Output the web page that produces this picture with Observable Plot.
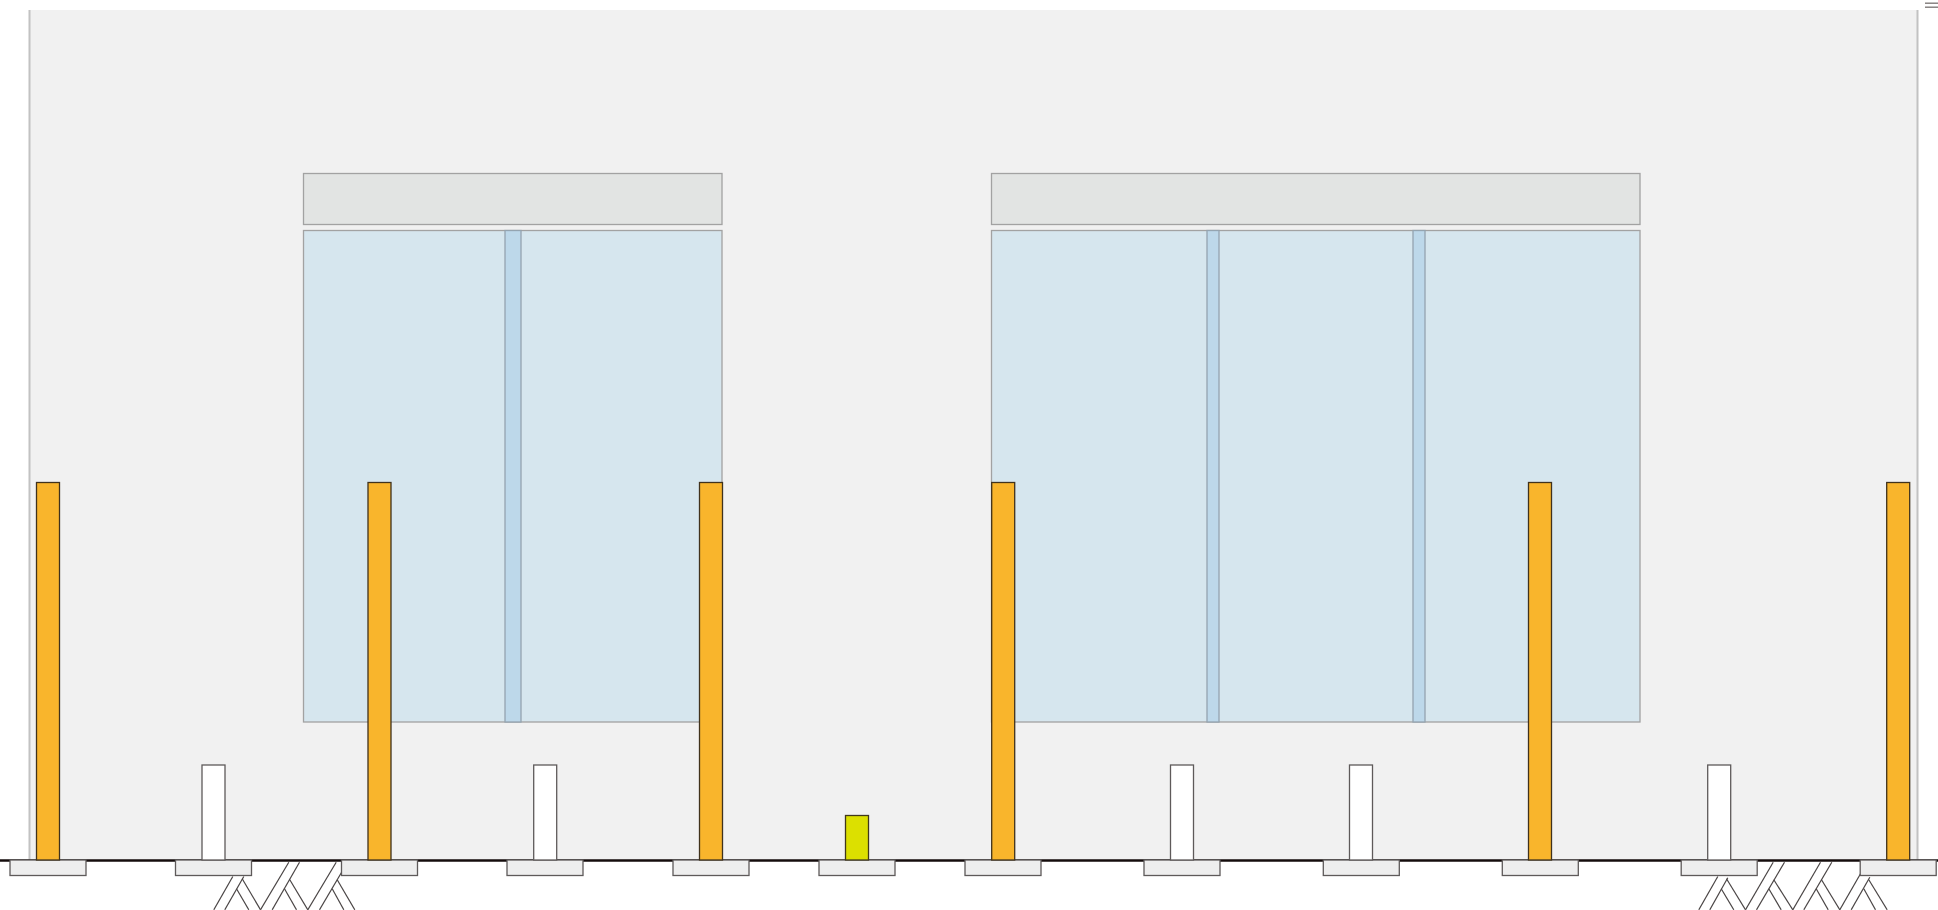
<!DOCTYPE html>
<html>
<head>
<meta charset="utf-8">
<script src="https://cdn.jsdelivr.net/npm/d3@7"></script>
<script src="https://cdn.jsdelivr.net/npm/@observablehq/plot@0.6"></script>
<style>html,body{margin:0;padding:0;background:#fff;overflow:hidden}svg{display:block}</style>
</head>
<body>
<div id="chart"></div>
<script>
// Horizontal position along the elevation, and height above the floor line
const wallSpan = [29, 1917];
const wallTop = 850;
const panelSpans = [[303.5, 722], [991.5, 1640]];
const panelBottom = 138;
const panelTop = 629.5;
const headerBottom = 635.5;
const headerTop = 686.5;
const mullionSpans = [[505, 521], [1207, 1219], [1413, 1425]];
const orangeCentres = [48, 379.5, 711, 1003.2, 1540, 1898.2];
const whiteCentres = [213.5, 545.2, 1182, 1361, 1719.2];
const yellowCentres = [857];
const postWidth = 23;
const orangeHeight = 377.5;
const whiteHeight = 95;
const yellowHeight = 44.5;
const footingCentres = [48, 213.5, 379.5, 545, 711, 857, 1003, 1182, 1361.3, 1540.3, 1719.2, 1898.2];
const footingWidth = 76;
const footingDepth = -15.5;
// x1, height1, x2, height2
const pileLines = [
  [213.3,-49.3,232.3,-16],[224.3,-49.3,243.3,-16],[241.7,-18.3,260,-49.3],[236,-28.3,248.3,-49.3],
  [260,-49.3,288.3,-1.7],[271.7,-49.3,299,-1.7],[289.3,-19.3,307.3,-49.3],[284,-28.3,296,-49.3],
  [307.3,-49.3,335.7,-1.7],[319,-49.3,341.7,-10.7],[336.7,-19.3,354.3,-49.3],[331.7,-28.3,343.3,-49.3],
  [1698.3,-49.3,1717.3,-16],[1709.3,-49.3,1727.3,-17.3],[1726,-18.3,1745,-49.3],[1720.7,-28.3,1733.3,-49.3],
  [1745,-49.3,1772.7,-1.7],[1756,-49.3,1784,-1.7],[1773.3,-19.3,1792.3,-49.3],[1768.3,-28.3,1780.7,-49.3],
  [1792.3,-49.3,1820,-1.7],[1803.3,-49.3,1831.3,-1.7],[1821,-19.3,1839.3,-49.3],[1815.7,-28.3,1827.7,-49.3],
  [1839.3,-49.3,1860,-13.3],[1850.7,-49.3,1869.3,-16.7],[1868.3,-19.3,1886.7,-49.3],[1863.3,-28.3,1875,-49.3]
];
const cornerDashes = [857.3, 853.3];
const cornerDashSpan = [1925, 1938];

const wall = [{x1: wallSpan[0], x2: wallSpan[1], y1: 0, y2: wallTop}];
const panels = panelSpans.map(([x1, x2]) => ({x1, x2, y1: panelBottom, y2: panelTop}));
const headers = panelSpans.map(([x1, x2]) => ({x1, x2, y1: headerBottom, y2: headerTop}));
const mullions = mullionSpans.map(([x1, x2]) => ({x1, x2, y1: panelBottom, y2: panelTop}));
const posts = (centres, h) => centres.map(c => ({x1: c - postWidth / 2, x2: c + postWidth / 2, y1: 0, y2: h}));
const footings = footingCentres.map(c => ({x1: c - footingWidth / 2, x2: c + footingWidth / 2, y1: footingDepth, y2: 0}));
const rectOpts = {x1: "x1", x2: "x2", y1: "y1", y2: "y2"};

const chart = Plot.plot({
  width: 1938,
  height: 910,
  margin: 0,
  x: {domain: [0, 1938], range: [0, 1938], axis: null},
  y: {domain: [-50, 860], range: [910, 0], axis: null},
  marks: [
    Plot.rect(wall, {...rectOpts, fill: "#f1f1f1"}),
    Plot.ruleX(wallSpan, {y1: 0, y2: wallTop, stroke: "#c2c2c2", strokeWidth: 2}),
    Plot.rect(headers, {...rectOpts, fill: "#e2e4e3", stroke: "#a2a2a2", strokeWidth: 1.3}),
    Plot.rect(panels, {...rectOpts, fill: "#d6e6ee", stroke: "#a2a2a2", strokeWidth: 1.3}),
    Plot.rect(mullions, {...rectOpts, fill: "#bdd8ea", stroke: "#94a4b0", strokeWidth: 1.3}),
    Plot.link(pileLines, {x1: d => d[0], y1: d => d[1], x2: d => d[2], y2: d => d[3], stroke: "#4a4545", strokeWidth: 1.2}),
    Plot.ruleY([0], {x1: 0, x2: 1938, stroke: "#140c0c", strokeWidth: 2.6}),
    Plot.rect(footings, {...rectOpts, fill: "#eeeeee", stroke: "#5e5a5a", strokeWidth: 1.3}),
    Plot.rect(posts(whiteCentres, whiteHeight), {...rectOpts, fill: "#ffffff", stroke: "#5e5a5a", strokeWidth: 1.3}),
    Plot.rect(posts(orangeCentres, orangeHeight), {...rectOpts, fill: "#f9b52c", stroke: "#40321c", strokeWidth: 1.3}),
    Plot.rect(posts(yellowCentres, yellowHeight), {...rectOpts, fill: "#dce000", stroke: "#40381c", strokeWidth: 1.3}),
    Plot.ruleY(cornerDashes, {x1: cornerDashSpan[0], x2: cornerDashSpan[1], stroke: "#7f7a79", strokeWidth: 1.4})
  ]
});
document.getElementById("chart").append(chart);
</script>
</body>
</html>
